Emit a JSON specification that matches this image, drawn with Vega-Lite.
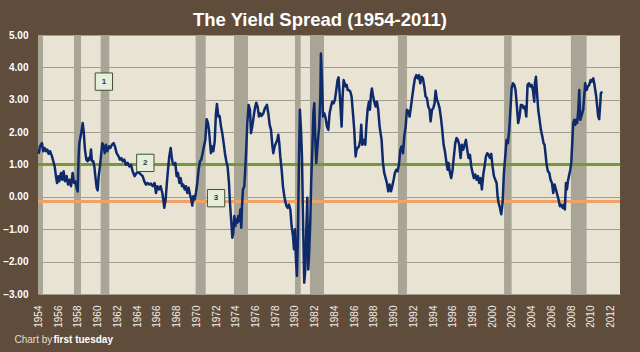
{
  "$schema": "https://vega.github.io/schema/vega-lite/v6.json",
  "width": 582,
  "height": 259,
  "autosize": {"type": "none"},
  "padding": {"left": 38, "top": 35, "right": 20, "bottom": 58},
  "background": "#604C3B",
  "title": {"text": "The Yield Spread (1954-2011)", "font": "Liberation Sans", "fontSize": 18.5, "fontWeight": "bold", "color": "#FFFFFF", "anchor": "middle", "frame": "group", "baseline": "alphabetic", "offset": 8, "dy": 22, "dx": -9},
  "datasets": {
    "recessions": [
      {"s": 1953.5, "e": 1954.45}, {"s": 1957.6, "e": 1958.31}, {"s": 1960.3, "e": 1961.18}, {"s": 1969.93, "e": 1970.95},
      {"s": 1973.82, "e": 1975.24}, {"s": 1980.0, "e": 1980.58}, {"s": 1981.52, "e": 1982.94}, {"s": 1990.44, "e": 1991.35},
      {"s": 2001.2, "e": 2001.96}, {"s": 2007.97, "e": 2009.56}
    ],
    "spread": [
      {"t":1954.02,"v":1.33},{"t":1954.15,"v":1.56},{"t":1954.35,"v":1.66},{"t":1954.49,"v":1.41},{"t":1954.63,"v":1.51},{"t":1954.76,"v":1.41},{"t":1954.9,"v":1.46},{"t":1955.03,"v":1.33},{"t":1955.17,"v":1.41},{"t":1955.37,"v":1.25},{"t":1955.5,"v":1.1},{"t":1955.64,"v":0.94},{"t":1955.77,"v":0.64},{"t":1955.88,"v":0.43},{"t":1956.01,"v":0.64},{"t":1956.11,"v":0.48},{"t":1956.28,"v":0.74},{"t":1956.42,"v":0.53},{"t":1956.55,"v":0.79},{"t":1956.69,"v":0.48},{"t":1956.86,"v":0.64},{"t":1956.99,"v":0.38},{"t":1957.13,"v":0.53},{"t":1957.3,"v":0.33},{"t":1957.46,"v":0.74},{"t":1957.6,"v":0.43},{"t":1957.73,"v":0.48},{"t":1957.87,"v":0.28},{"t":1957.97,"v":0.17},
      {"t":1958.07,"v":1.25},{"t":1958.14,"v":1.66},{"t":1958.27,"v":1.87},{"t":1958.38,"v":2.07},{"t":1958.48,"v":2.28},{"t":1958.58,"v":2.02},{"t":1958.71,"v":1.46},{"t":1958.85,"v":1.15},{"t":1958.98,"v":1.1},{"t":1959.08,"v":1.2},{"t":1959.22,"v":1.15},{"t":1959.32,"v":1.46},{"t":1959.42,"v":1.1},{"t":1959.56,"v":1.1},{"t":1959.66,"v":0.94},{"t":1959.76,"v":0.64},{"t":1959.9,"v":0.28},{"t":1960.0,"v":0.2},{"t":1960.1,"v":0.64},{"t":1960.23,"v":0.94},{"t":1960.37,"v":1.35},{"t":1960.47,"v":1.66},{"t":1960.61,"v":1.56},{"t":1960.71,"v":1.35},{"t":1960.84,"v":1.61},{"t":1960.98,"v":1.41},{"t":1961.15,"v":1.56},{"t":1961.28,"v":1.51},{"t":1961.45,"v":1.61},{"t":1961.62,"v":1.66},{"t":1961.75,"v":1.56},{"t":1961.92,"v":1.35},
      {"t":1962.12,"v":1.25},{"t":1962.26,"v":1.15},{"t":1962.4,"v":1.2},{"t":1962.53,"v":1.1},{"t":1962.7,"v":1.15},{"t":1962.87,"v":0.99},{"t":1963.04,"v":1.05},{"t":1963.21,"v":0.94},{"t":1963.38,"v":0.99},{"t":1963.54,"v":0.79},{"t":1963.75,"v":0.64},{"t":1963.95,"v":0.74},{"t":1964.15,"v":0.76},{"t":1964.39,"v":0.69},{"t":1964.56,"v":0.64},{"t":1964.73,"v":0.48},{"t":1964.9,"v":0.38},{"t":1965.06,"v":0.43},{"t":1965.23,"v":0.38},{"t":1965.4,"v":0.41},
      {"t":1965.57,"v":0.33},{"t":1965.77,"v":0.43},{"t":1965.91,"v":0.12},{"t":1966.05,"v":0.33},{"t":1966.21,"v":0.23},{"t":1966.38,"v":0.33},{"t":1966.55,"v":0.12},{"t":1966.65,"v":-0.08},{"t":1966.75,"v":-0.34},{"t":1966.89,"v":-0.08},{"t":1966.99,"v":0.33},{"t":1967.13,"v":0.84},{"t":1967.26,"v":1.25},{"t":1967.4,"v":1.51},{"t":1967.5,"v":1.25},{"t":1967.6,"v":1.05},{"t":1967.73,"v":0.99},{"t":1967.87,"v":1.05},{"t":1968.0,"v":0.64},{"t":1968.14,"v":0.74},{"t":1968.28,"v":0.43},{"t":1968.41,"v":0.58},{"t":1968.55,"v":0.33},{"t":1968.68,"v":0.38},{"t":1968.82,"v":0.23},{"t":1968.95,"v":0.33},{"t":1969.09,"v":0.12},{"t":1969.22,"v":0.28},{"t":1969.36,"v":0.07},{"t":1969.49,"v":-0.08},{"t":1969.59,"v":-0.27},{"t":1969.69,"v":0.02},{"t":1969.83,"v":-0.08},{"t":1969.96,"v":0.12},
      {"t":1970.1,"v":0.43},{"t":1970.23,"v":0.84},{"t":1970.37,"v":1.1},{"t":1970.5,"v":1.15},{"t":1970.64,"v":1.35},{"t":1970.77,"v":1.56},{"t":1970.91,"v":1.76},{"t":1971.05,"v":2.4},{"t":1971.18,"v":2.28},{"t":1971.28,"v":2.07},{"t":1971.38,"v":1.71},{"t":1971.48,"v":1.35},{"t":1971.59,"v":1.56},{"t":1971.72,"v":1.41},{"t":1971.86,"v":1.71},{"t":1971.99,"v":2.58},{"t":1972.09,"v":2.87},{"t":1972.23,"v":2.48},{"t":1972.36,"v":2.5},{"t":1972.5,"v":2.17},{"t":1972.63,"v":1.97},{"t":1972.77,"v":1.66},{"t":1972.9,"v":1.35},{"t":1973.04,"v":1.1},{"t":1973.17,"v":0.94},{"t":1973.31,"v":0.43},{"t":1973.41,"v":-0.18},{"t":1973.55,"v":-0.8},{"t":1973.65,"v":-1.26},{"t":1973.75,"v":-1.11},{"t":1973.85,"v":-0.59},{"t":1973.95,"v":-0.9},
      {"t":1974.05,"v":-0.7},{"t":1974.15,"v":-0.8},{"t":1974.25,"v":-0.59},{"t":1974.36,"v":-0.75},{"t":1974.46,"v":-0.39},{"t":1974.56,"v":-0.95},{"t":1974.63,"v":-0.29},{"t":1974.73,"v":0.23},{"t":1974.86,"v":0.33},{"t":1974.96,"v":0.84},{"t":1975.07,"v":1.56},{"t":1975.17,"v":2.28},{"t":1975.3,"v":2.84},{"t":1975.44,"v":2.69},{"t":1975.54,"v":1.97},{"t":1975.67,"v":2.17},{"t":1975.81,"v":2.48},{"t":1975.94,"v":2.74},{"t":1976.08,"v":2.91},{"t":1976.21,"v":2.79},{"t":1976.35,"v":2.48},{"t":1976.48,"v":2.58},{"t":1976.62,"v":2.5},{"t":1976.79,"v":2.58},
      {"t":1976.96,"v":2.74},{"t":1977.16,"v":2.84},{"t":1977.3,"v":2.58},{"t":1977.43,"v":2.23},{"t":1977.57,"v":2.07},{"t":1977.7,"v":1.61},{"t":1977.8,"v":1.35},{"t":1977.94,"v":1.56},{"t":1978.07,"v":1.66},{"t":1978.21,"v":1.76},{"t":1978.31,"v":1.92},{"t":1978.41,"v":1.66},{"t":1978.51,"v":1.25},{"t":1978.65,"v":0.84},{"t":1978.78,"v":0.33},{"t":1978.92,"v":0.02},{"t":1979.05,"v":-0.18},{"t":1979.15,"v":-0.29},{"t":1979.26,"v":-0.34},{"t":1979.39,"v":-0.24},{"t":1979.53,"v":-0.39},{"t":1979.66,"v":-0.9},{"t":1979.8,"v":-1.21},{"t":1979.9,"v":-1.62},{"t":1980.0,"v":-1.0},{"t":1980.1,"v":-1.93},{"t":1980.2,"v":-2.44},{"t":1980.3,"v":-1.21},{"t":1980.4,"v":1.05},{"t":1980.5,"v":2.69},{"t":1980.61,"v":2.07},{"t":1980.71,"v":1.25},{"t":1980.81,"v":-0.59},{"t":1980.94,"v":-2.65},
      {"t":1981.05,"v":-2.24},{"t":1981.15,"v":-1.0},{"t":1981.25,"v":-0.03},{"t":1981.35,"v":-2.24},{"t":1981.45,"v":-1.62},{"t":1981.55,"v":-0.8},{"t":1981.65,"v":0.53},{"t":1981.76,"v":1.46},{"t":1981.86,"v":2.58},{"t":1981.96,"v":2.89},{"t":1982.06,"v":1.76},{"t":1982.16,"v":1.05},{"t":1982.26,"v":1.46},{"t":1982.36,"v":1.87},{"t":1982.46,"v":2.17},{"t":1982.57,"v":3.1},{"t":1982.63,"v":4.43},{"t":1982.74,"v":3.61},{"t":1982.84,"v":2.48},{"t":1982.97,"v":2.58},{"t":1983.11,"v":2.43},{"t":1983.24,"v":2.17},{"t":1983.38,"v":2.07},{"t":1983.51,"v":2.58},{"t":1983.65,"v":2.79},{"t":1983.78,"v":2.94},{"t":1983.92,"v":2.89},
      {"t":1984.05,"v":3.0},{"t":1984.19,"v":3.3},{"t":1984.32,"v":3.61},{"t":1984.42,"v":3.69},{"t":1984.53,"v":3.2},{"t":1984.63,"v":2.69},{"t":1984.73,"v":2.17},{"t":1984.83,"v":3.1},{"t":1984.93,"v":3.61},{"t":1985.03,"v":3.51},{"t":1985.13,"v":3.41},{"t":1985.24,"v":3.46},{"t":1985.34,"v":3.3},{"t":1985.47,"v":3.3},{"t":1985.61,"v":3.25},{"t":1985.74,"v":3.1},{"t":1985.88,"v":2.58},{"t":1986.01,"v":2.07},{"t":1986.15,"v":1.25},{"t":1986.25,"v":1.46},{"t":1986.35,"v":1.51},{"t":1986.49,"v":1.56},{"t":1986.62,"v":1.76},{"t":1986.72,"v":2.23},{"t":1986.82,"v":1.61},{"t":1986.92,"v":1.66},{"t":1987.03,"v":1.76},{"t":1987.13,"v":1.61},{"t":1987.23,"v":2.17},{"t":1987.36,"v":2.69},{"t":1987.5,"v":2.94},{"t":1987.6,"v":2.69},{"t":1987.7,"v":3.15},{"t":1987.8,"v":3.35},{"t":1987.9,"v":3.15},
      {"t":1988.04,"v":2.94},{"t":1988.17,"v":2.79},{"t":1988.31,"v":2.94},{"t":1988.44,"v":2.69},{"t":1988.58,"v":2.17},{"t":1988.78,"v":1.76},{"t":1988.92,"v":1.05},{"t":1989.05,"v":0.74},{"t":1989.19,"v":0.58},{"t":1989.32,"v":0.43},{"t":1989.46,"v":0.17},{"t":1989.59,"v":0.38},{"t":1989.73,"v":0.17},{"t":1989.86,"v":0.33},{"t":1990.0,"v":0.53},{"t":1990.13,"v":0.74},{"t":1990.27,"v":0.84},{"t":1990.4,"v":0.79},{"t":1990.54,"v":0.99},{"t":1990.68,"v":1.46},{"t":1990.81,"v":1.56},{"t":1990.95,"v":1.35},{"t":1991.08,"v":1.87},{"t":1991.22,"v":2.17},{"t":1991.35,"v":2.69},{"t":1991.49,"v":2.64},{"t":1991.62,"v":2.48},{"t":1991.76,"v":2.79},{"t":1991.89,"v":3.1},
      {"t":1992.03,"v":3.41},{"t":1992.16,"v":3.66},{"t":1992.3,"v":3.76},{"t":1992.43,"v":3.66},{"t":1992.57,"v":3.76},{"t":1992.7,"v":3.51},{"t":1992.84,"v":3.71},{"t":1992.97,"v":3.66},{"t":1993.11,"v":3.41},{"t":1993.24,"v":3.1},{"t":1993.38,"v":3.05},{"t":1993.51,"v":2.79},{"t":1993.65,"v":2.69},{"t":1993.75,"v":2.33},{"t":1993.89,"v":2.69},{"t":1994.02,"v":2.74},{"t":1994.15,"v":2.89},{"t":1994.26,"v":3.28},{"t":1994.39,"v":3.0},{"t":1994.53,"v":2.89},{"t":1994.66,"v":2.74},{"t":1994.8,"v":2.43},{"t":1994.93,"v":2.07},{"t":1995.07,"v":1.61},{"t":1995.2,"v":1.41},{"t":1995.34,"v":1.1},{"t":1995.47,"v":0.84},{"t":1995.57,"v":1.05},{"t":1995.71,"v":0.74},{"t":1995.84,"v":0.58},{"t":1995.98,"v":0.84},
      {"t":1996.11,"v":1.25},{"t":1996.25,"v":1.66},{"t":1996.38,"v":1.82},{"t":1996.52,"v":1.76},{"t":1996.65,"v":1.61},{"t":1996.79,"v":1.2},{"t":1996.92,"v":1.61},{"t":1997.06,"v":1.46},{"t":1997.19,"v":1.61},{"t":1997.33,"v":1.76},{"t":1997.46,"v":1.46},{"t":1997.6,"v":1.2},{"t":1997.74,"v":1.3},{"t":1997.87,"v":0.94},{"t":1998.01,"v":0.74},{"t":1998.14,"v":0.58},{"t":1998.28,"v":0.69},{"t":1998.41,"v":0.53},{"t":1998.55,"v":0.64},{"t":1998.68,"v":0.43},{"t":1998.82,"v":0.58},{"t":1998.95,"v":0.23},{"t":1999.09,"v":0.69},{"t":1999.22,"v":0.94},{"t":1999.36,"v":1.25},{"t":1999.49,"v":1.35},{"t":1999.63,"v":1.3},{"t":1999.76,"v":1.2},{"t":1999.9,"v":1.33},{"t":2000.03,"v":0.94},{"t":2000.17,"v":0.64},
      {"t":2000.44,"v":0.43},{"t":2000.54,"v":0.02},{"t":2000.64,"v":-0.18},{"t":2000.78,"v":-0.34},{"t":2000.91,"v":-0.54},{"t":2001.05,"v":-0.18},{"t":2001.18,"v":0.74},{"t":2001.32,"v":1.25},{"t":2001.45,"v":1.76},{"t":2001.59,"v":1.66},{"t":2001.72,"v":2.07},{"t":2001.86,"v":2.79},{"t":2001.96,"v":3.35},{"t":2002.09,"v":3.51},{"t":2002.23,"v":3.46},{"t":2002.36,"v":3.3},{"t":2002.5,"v":2.79},{"t":2002.63,"v":2.28},{"t":2002.77,"v":2.48},{"t":2002.9,"v":2.84},{"t":2003.04,"v":2.84},{"t":2003.18,"v":2.74},{"t":2003.31,"v":2.79},{"t":2003.45,"v":2.48},{"t":2003.58,"v":3.46},{"t":2003.72,"v":3.51},{"t":2003.85,"v":3.41},{"t":2003.99,"v":3.46},
      {"t":2004.12,"v":3.3},{"t":2004.26,"v":2.94},{"t":2004.32,"v":3.51},{"t":2004.43,"v":3.71},{"t":2004.53,"v":3.25},{"t":2004.66,"v":2.69},{"t":2004.8,"v":2.38},{"t":2004.93,"v":2.07},{"t":2005.07,"v":1.87},{"t":2005.2,"v":1.66},{"t":2005.3,"v":1.61},{"t":2005.41,"v":1.3},{"t":2005.51,"v":0.99},{"t":2005.64,"v":0.79},{"t":2005.78,"v":0.74},{"t":2005.91,"v":0.53},{"t":2006.05,"v":0.43},{"t":2006.18,"v":0.12},{"t":2006.32,"v":0.38},{"t":2006.45,"v":0.23},{"t":2006.59,"v":0.07},{"t":2006.72,"v":-0.08},{"t":2006.86,"v":-0.29},{"t":2006.99,"v":-0.24},{"t":2007.13,"v":-0.34},{"t":2007.26,"v":-0.24},{"t":2007.36,"v":-0.39},{"t":2007.47,"v":0.43},{"t":2007.57,"v":0.23},{"t":2007.67,"v":0.48},{"t":2007.77,"v":0.64},{"t":2007.91,"v":0.84},
      {"t":2008.01,"v":1.05},{"t":2008.11,"v":1.66},{"t":2008.21,"v":2.28},{"t":2008.31,"v":2.38},{"t":2008.41,"v":2.23},{"t":2008.51,"v":2.38},{"t":2008.61,"v":2.28},{"t":2008.72,"v":2.69},{"t":2008.82,"v":3.3},{"t":2008.92,"v":2.38},{"t":2009.02,"v":2.48},{"t":2009.12,"v":2.58},{"t":2009.22,"v":2.69},{"t":2009.32,"v":3.1},{"t":2009.42,"v":3.51},{"t":2009.56,"v":3.3},{"t":2009.69,"v":3.41},{"t":2009.83,"v":3.46},{"t":2009.97,"v":3.61},{"t":2010.1,"v":3.56},{"t":2010.24,"v":3.66},{"t":2010.34,"v":3.51},{"t":2010.44,"v":3.3},{"t":2010.54,"v":3.1},{"t":2010.64,"v":2.79},{"t":2010.74,"v":2.48},{"t":2010.84,"v":2.4},{"t":2010.95,"v":2.89},{"t":2011.01,"v":3.2},{"t":2011.15,"v":3.25}
    ],
    "markers": [
      {"t": 1960.63, "v": 3.56, "label": "1"},
      {"t": 1964.83, "v": 1.05, "label": "2"},
      {"t": 1972.0, "v": -0.04, "label": "3"}
    ]
  },
  "layer": [
    {
      "data": {"name": "recessions"},
      "mark": {"type": "rect", "clip": true, "color": "#A8A496"},
      "encoding": {
        "x": {"field": "s", "type": "quantitative", "title": "Chart by", "scale": {"domain": [1953.95, 2012.95], "nice": false, "zero": false},
              "axis": {"values": [1954,1956,1958,1960,1962,1964,1966,1968,1970,1972,1974,1976,1978,1980,1982,1984,1986,1988,1990,1992,1994,1996,1998,2000,2002,2004,2006,2008,2010,2012], "format": "d"}},
        "x2": {"field": "e"}
      }
    },
    {
      "data": {"values": [{"level": 1.0}]},
      "mark": {"type": "rule", "color": "#76973A", "strokeWidth": 3},
      "encoding": {"y": {"field": "level", "type": "quantitative", "title": "first tuesday", "scale": {"domain": [-3, 5], "nice": false, "zero": false},
              "axis": {"values": [-3,-2,-1,0,1,2,3,4,5], "format": ".2f"}}}
    },
    {
      "data": {"values": [{"level": -0.14}]},
      "mark": {"type": "rule", "color": "#F0A264", "strokeWidth": 3},
      "encoding": {"y": {"field": "level", "type": "quantitative", "title": "first tuesday", "scale": {"domain": [-3, 5], "nice": false, "zero": false},
              "axis": {"values": [-3,-2,-1,0,1,2,3,4,5], "format": ".2f"}}}
    },
    {
      "data": {"name": "spread"},
      "mark": {"type": "line", "color": "#0E2A6B", "strokeWidth": 2.5, "strokeJoin": "round"},
      "encoding": {
        "x": {"field": "t", "type": "quantitative", "title": "Chart by", "scale": {"domain": [1953.95, 2012.95], "nice": false, "zero": false},
              "axis": {"values": [1954,1956,1958,1960,1962,1964,1966,1968,1970,1972,1974,1976,1978,1980,1982,1984,1986,1988,1990,1992,1994,1996,1998,2000,2002,2004,2006,2008,2010,2012], "format": "d"}},
        "y": {"field": "v", "type": "quantitative", "title": "first tuesday", "scale": {"domain": [-3, 5], "nice": false, "zero": false},
              "axis": {"values": [-3,-2,-1,0,1,2,3,4,5], "format": ".2f"}}
      }
    },
    {
      "data": {"name": "markers"},
      "mark": {"type": "point", "shape": "square", "size": 300, "filled": true, "fill": "#E5EED8", "stroke": "#3F4F33", "strokeWidth": 1, "opacity": 1},
      "encoding": {
        "x": {"field": "t", "type": "quantitative", "title": "Chart by", "scale": {"domain": [1953.95, 2012.95], "nice": false, "zero": false},
              "axis": {"values": [1954,1956,1958,1960,1962,1964,1966,1968,1970,1972,1974,1976,1978,1980,1982,1984,1986,1988,1990,1992,1994,1996,1998,2000,2002,2004,2006,2008,2010,2012], "format": "d"}},
        "y": {"field": "v", "type": "quantitative", "title": "first tuesday", "scale": {"domain": [-3, 5], "nice": false, "zero": false},
              "axis": {"values": [-3,-2,-1,0,1,2,3,4,5], "format": ".2f"}}
      }
    },
    {
      "data": {"name": "markers"},
      "mark": {"type": "text", "font": "Liberation Sans", "fontSize": 8, "fontWeight": "bold", "color": "#333333", "baseline": "middle", "align": "center"},
      "encoding": {
        "x": {"field": "t", "type": "quantitative", "title": "Chart by", "scale": {"domain": [1953.95, 2012.95], "nice": false, "zero": false},
              "axis": {"values": [1954,1956,1958,1960,1962,1964,1966,1968,1970,1972,1974,1976,1978,1980,1982,1984,1986,1988,1990,1992,1994,1996,1998,2000,2002,2004,2006,2008,2010,2012], "format": "d"}},
        "y": {"field": "v", "type": "quantitative", "title": "first tuesday", "scale": {"domain": [-3, 5], "nice": false, "zero": false},
              "axis": {"values": [-3,-2,-1,0,1,2,3,4,5], "format": ".2f"}},
        "text": {"field": "label"}
      }
    }
  ],
  "config": {
    "view": {"fill": "#E9E3D3", "stroke": null},
    "axisX": {
      "labelAngle": 270, "labelAlign": "right", "labelBaseline": "middle", "labelPadding": 11, "labelFlush": false, "labelOverlap": false, "labelBound": false,
      "labelFont": "Liberation Sans", "labelFontSize": 10, "labelColor": "#F2EEE8",
      "ticks": false, "tickSize": 0, "domain": false, "grid": false,
      "titleX": -24, "titleY": 48, "titleAlign": "left", "titleAnchor": null, "titleBaseline": "alphabetic", "titleAngle": 0,
      "titleFont": "Liberation Sans", "titleFontSize": 10, "titleFontWeight": "normal", "titleColor": "#E4DED6"
    },
    "axisY": {
      "labelFont": "Liberation Sans", "labelFontSize": 10, "labelFontWeight": "bold", "labelColor": "#FFFFFF", "labelPadding": 10, "labelFlush": false, "labelOverlap": false, "labelBound": false,
      "ticks": false, "tickSize": 0, "domain": false, "grid": true, "gridColor": "#A19C8E", "gridWidth": 1,
      "titleX": 15, "titleY": 307, "titleAlign": "left", "titleAnchor": null, "titleBaseline": "alphabetic", "titleAngle": 0,
      "titleFont": "Liberation Sans", "titleFontSize": 10, "titleFontWeight": "bold", "titleColor": "#FFFFFF"
    }
  }
}
